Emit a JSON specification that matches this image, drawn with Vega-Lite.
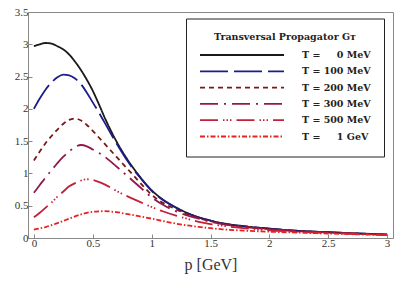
{
  "$schema": "https://vega.github.io/schema/vega-lite/v6.json",
  "width": 365,
  "height": 226,
  "autosize": "none",
  "padding": {"left": 28, "top": 12, "right": 14, "bottom": 49},
  "background": "white",
  "config": {"view": {"stroke": "#888", "strokeWidth": 1}, "font": "Liberation Serif"},
  "datasets": {
    "curves": [
      {"T":"0","p":0,"G":2.97},{"T":"0","p":0.05,"G":3.0},{"T":"0","p":0.1,"G":3.02},{"T":"0","p":0.15,"G":3.01},{"T":"0","p":0.2,"G":2.97},{"T":"0","p":0.25,"G":2.92},{"T":"0","p":0.3,"G":2.84},{"T":"0","p":0.35,"G":2.73},{"T":"0","p":0.4,"G":2.6},{"T":"0","p":0.45,"G":2.45},{"T":"0","p":0.5,"G":2.28},{"T":"0","p":0.55,"G":2.08},{"T":"0","p":0.6,"G":1.87},{"T":"0","p":0.7,"G":1.5},{"T":"0","p":0.8,"G":1.2},{"T":"0","p":0.9,"G":0.95},{"T":"0","p":1.0,"G":0.74},{"T":"0","p":1.1,"G":0.59},{"T":"0","p":1.2,"G":0.48},{"T":"0","p":1.3,"G":0.39},{"T":"0","p":1.4,"G":0.32},{"T":"0","p":1.5,"G":0.27},{"T":"0","p":1.6,"G":0.23},{"T":"0","p":1.8,"G":0.18},{"T":"0","p":2.0,"G":0.145},{"T":"0","p":2.25,"G":0.11},{"T":"0","p":2.5,"G":0.09},{"T":"0","p":2.75,"G":0.07},{"T":"0","p":3.0,"G":0.055},
      {"T":"100","p":0,"G":2.0},{"T":"100","p":0.05,"G":2.16},{"T":"100","p":0.1,"G":2.3},{"T":"100","p":0.15,"G":2.41},{"T":"100","p":0.2,"G":2.49},{"T":"100","p":0.25,"G":2.53},{"T":"100","p":0.3,"G":2.52},{"T":"100","p":0.35,"G":2.47},{"T":"100","p":0.4,"G":2.38},{"T":"100","p":0.45,"G":2.25},{"T":"100","p":0.5,"G":2.1},{"T":"100","p":0.55,"G":1.95},{"T":"100","p":0.6,"G":1.79},{"T":"100","p":0.7,"G":1.47},{"T":"100","p":0.8,"G":1.18},{"T":"100","p":0.9,"G":0.94},{"T":"100","p":1.0,"G":0.73},{"T":"100","p":1.1,"G":0.585},{"T":"100","p":1.2,"G":0.475},{"T":"100","p":1.3,"G":0.385},{"T":"100","p":1.4,"G":0.318},{"T":"100","p":1.5,"G":0.268},{"T":"100","p":1.6,"G":0.228},{"T":"100","p":1.8,"G":0.178},{"T":"100","p":2.0,"G":0.144},{"T":"100","p":2.25,"G":0.11},{"T":"100","p":2.5,"G":0.09},{"T":"100","p":2.75,"G":0.07},{"T":"100","p":3.0,"G":0.055},
      {"T":"200","p":0,"G":1.2},{"T":"200","p":0.05,"G":1.34},{"T":"200","p":0.1,"G":1.47},{"T":"200","p":0.15,"G":1.58},{"T":"200","p":0.2,"G":1.68},{"T":"200","p":0.25,"G":1.77},{"T":"200","p":0.3,"G":1.83},{"T":"200","p":0.35,"G":1.85},{"T":"200","p":0.4,"G":1.82},{"T":"200","p":0.45,"G":1.75},{"T":"200","p":0.5,"G":1.66},{"T":"200","p":0.55,"G":1.56},{"T":"200","p":0.6,"G":1.46},{"T":"200","p":0.7,"G":1.26},{"T":"200","p":0.8,"G":1.06},{"T":"200","p":0.9,"G":0.86},{"T":"200","p":1.0,"G":0.67},{"T":"200","p":1.1,"G":0.54},{"T":"200","p":1.2,"G":0.45},{"T":"200","p":1.3,"G":0.37},{"T":"200","p":1.4,"G":0.31},{"T":"200","p":1.5,"G":0.26},{"T":"200","p":1.6,"G":0.22},{"T":"200","p":1.8,"G":0.175},{"T":"200","p":2.0,"G":0.14},{"T":"200","p":2.25,"G":0.107},{"T":"200","p":2.5,"G":0.087},{"T":"200","p":2.75,"G":0.068},{"T":"200","p":3.0,"G":0.053},
      {"T":"300","p":0,"G":0.7},{"T":"300","p":0.05,"G":0.82},{"T":"300","p":0.1,"G":0.94},{"T":"300","p":0.15,"G":1.05},{"T":"300","p":0.2,"G":1.16},{"T":"300","p":0.25,"G":1.26},{"T":"300","p":0.3,"G":1.34},{"T":"300","p":0.35,"G":1.41},{"T":"300","p":0.4,"G":1.44},{"T":"300","p":0.45,"G":1.42},{"T":"300","p":0.5,"G":1.37},{"T":"300","p":0.55,"G":1.32},{"T":"300","p":0.6,"G":1.26},{"T":"300","p":0.7,"G":1.11},{"T":"300","p":0.8,"G":0.95},{"T":"300","p":0.9,"G":0.79},{"T":"300","p":1.0,"G":0.63},{"T":"300","p":1.1,"G":0.51},{"T":"300","p":1.2,"G":0.42},{"T":"300","p":1.3,"G":0.35},{"T":"300","p":1.4,"G":0.3},{"T":"300","p":1.5,"G":0.25},{"T":"300","p":1.6,"G":0.215},{"T":"300","p":1.8,"G":0.17},{"T":"300","p":2.0,"G":0.135},{"T":"300","p":2.25,"G":0.105},{"T":"300","p":2.5,"G":0.085},{"T":"300","p":2.75,"G":0.066},{"T":"300","p":3.0,"G":0.052},
      {"T":"500","p":0,"G":0.32},{"T":"500","p":0.05,"G":0.39},{"T":"500","p":0.1,"G":0.47},{"T":"500","p":0.15,"G":0.55},{"T":"500","p":0.2,"G":0.64},{"T":"500","p":0.25,"G":0.72},{"T":"500","p":0.3,"G":0.8},{"T":"500","p":0.35,"G":0.85},{"T":"500","p":0.4,"G":0.89},{"T":"500","p":0.45,"G":0.91},{"T":"500","p":0.5,"G":0.9},{"T":"500","p":0.55,"G":0.87},{"T":"500","p":0.6,"G":0.83},{"T":"500","p":0.7,"G":0.73},{"T":"500","p":0.8,"G":0.64},{"T":"500","p":0.9,"G":0.56},{"T":"500","p":1.0,"G":0.48},{"T":"500","p":1.1,"G":0.41},{"T":"500","p":1.2,"G":0.35},{"T":"500","p":1.3,"G":0.3},{"T":"500","p":1.4,"G":0.25},{"T":"500","p":1.5,"G":0.215},{"T":"500","p":1.6,"G":0.19},{"T":"500","p":1.8,"G":0.15},{"T":"500","p":2.0,"G":0.12},{"T":"500","p":2.25,"G":0.095},{"T":"500","p":2.5,"G":0.077},{"T":"500","p":2.75,"G":0.062},{"T":"500","p":3.0,"G":0.05},
      {"T":"1000","p":0,"G":0.13},{"T":"1000","p":0.05,"G":0.15},{"T":"1000","p":0.1,"G":0.17},{"T":"1000","p":0.15,"G":0.2},{"T":"1000","p":0.2,"G":0.23},{"T":"1000","p":0.25,"G":0.265},{"T":"1000","p":0.3,"G":0.3},{"T":"1000","p":0.35,"G":0.335},{"T":"1000","p":0.4,"G":0.365},{"T":"1000","p":0.45,"G":0.39},{"T":"1000","p":0.5,"G":0.405},{"T":"1000","p":0.55,"G":0.413},{"T":"1000","p":0.6,"G":0.415},{"T":"1000","p":0.7,"G":0.4},{"T":"1000","p":0.8,"G":0.37},{"T":"1000","p":0.9,"G":0.335},{"T":"1000","p":1.0,"G":0.3},{"T":"1000","p":1.1,"G":0.26},{"T":"1000","p":1.2,"G":0.225},{"T":"1000","p":1.3,"G":0.195},{"T":"1000","p":1.4,"G":0.172},{"T":"1000","p":1.5,"G":0.152},{"T":"1000","p":1.6,"G":0.135},{"T":"1000","p":1.8,"G":0.113},{"T":"1000","p":2.0,"G":0.098},{"T":"1000","p":2.25,"G":0.083},{"T":"1000","p":2.5,"G":0.069},{"T":"1000","p":2.75,"G":0.056},{"T":"1000","p":3.0,"G":0.045}
    ]
  },
  "data": {"name": "curves"},
  "mark": {"type": "line", "interpolate": "monotone", "strokeWidth": 1.8},
  "encoding": {
    "x": {
      "field": "p", "type": "quantitative",
      "scale": {"domain": [-0.05, 3.05], "nice": false, "zero": false},
      "axis": {
        "title": "p [GeV]", "values": [0, 0.5, 1, 1.5, 2, 2.5, 3], "format": "~g", "grid": false, "domain": false,
        "tickSize": -4, "tickColor": "#888", "labelFont": "Liberation Serif", "labelFontSize": 11,
        "labelColor": "#333", "labelPadding": 3, "titleFont": "Liberation Serif", "titleFontSize": 16,
        "titleFontWeight": "normal", "titleColor": "#333", "titlePadding": 8
      }
    },
    "y": {
      "field": "G", "type": "quantitative",
      "scale": {"domain": [0, 3.5], "nice": false},
      "axis": {
        "title": null, "values": [0, 0.5, 1, 1.5, 2, 2.5, 3, 3.5], "format": "~g", "grid": false, "domain": false,
        "tickSize": -4, "tickColor": "#888", "labelFont": "Liberation Serif", "labelFontSize": 11,
        "labelColor": "#333", "labelPadding": 4
      }
    },
    "color": {
      "field": "T", "type": "nominal",
      "scale": {
        "domain": ["0", "100", "200", "300", "500", "1000"],
        "range": ["#1a1a1a", "#1c1c8a", "#7a1818", "#8e1a4c", "#c4203a", "#e8201e"]
      },
      "legend": {
        "orient": "none", "legendX": 158, "legendY": 6.5,
        "title": "Transversal Propagator Gᴛ",
        "labelExpr": "datum.value == '0' ? 'T = \u2007\u20070 MeV' : datum.value == '1000' ? 'T = \u2007\u20071 GeV' : 'T = ' + datum.value + ' MeV'",
        "strokeColor": "#222", "fillColor": "white", "padding": 13,
        "titleFont": "DejaVu Serif", "titleFontWeight": "bold", "titleFontSize": 9.5,
        "titleAnchor": "middle", "titleColor": "#222", "titlePadding": 7,
        "symbolType": "stroke", "symbolSize": 7056, "symbolStrokeWidth": 1.8,
        "clipHeight": 14, "rowPadding": 2.3,
        "labelFont": "DejaVu Serif", "labelFontWeight": "bold", "labelFontSize": 9.5,
        "labelOffset": 17, "labelColor": "#222", "labelLimit": 200
      }
    },
    "strokeDash": {
      "field": "T", "type": "nominal",
      "scale": {
        "domain": ["0", "100", "200", "300", "500", "1000"],
        "range": [[1, 0], [28, 6], [5, 4], [18, 6, 2, 6], [18, 5, 1.5, 2, 1.5, 2, 1.5, 5], [5, 2, 1.5, 2]]
      },
      "legend": {
        "orient": "none", "legendX": 158, "legendY": 6.5,
        "title": "Transversal Propagator Gᴛ",
        "labelExpr": "datum.value == '0' ? 'T = \u2007\u20070 MeV' : datum.value == '1000' ? 'T = \u2007\u20071 GeV' : 'T = ' + datum.value + ' MeV'",
        "strokeColor": "#222", "fillColor": "white", "padding": 13,
        "titleFont": "DejaVu Serif", "titleFontWeight": "bold", "titleFontSize": 9.5,
        "titleAnchor": "middle", "titleColor": "#222", "titlePadding": 7,
        "symbolType": "stroke", "symbolSize": 7056, "symbolStrokeWidth": 1.8,
        "clipHeight": 14, "rowPadding": 2.3,
        "labelFont": "DejaVu Serif", "labelFontWeight": "bold", "labelFontSize": 9.5,
        "labelOffset": 17, "labelColor": "#222", "labelLimit": 200
      }
    }
  }
}
